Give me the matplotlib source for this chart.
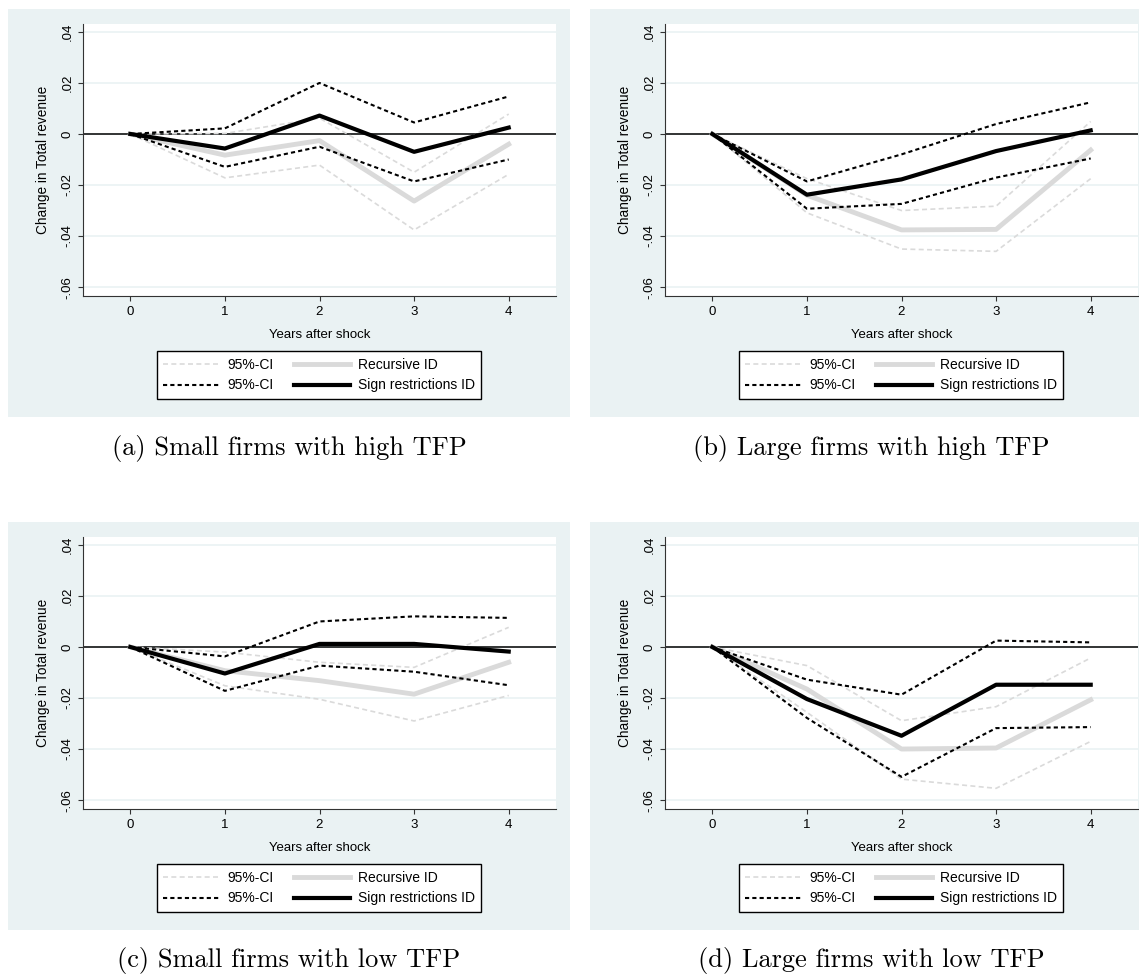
import numpy as np
import matplotlib.pyplot as plt
from matplotlib.patches import Rectangle
from matplotlib.lines import Line2D

plt.rcParams['font.family'] = ['Liberation Sans', 'DejaVu Sans']

years = [0, 1, 2, 3, 4]
yticks = [0.04, 0.02, 0, -0.02, -0.04, -0.06]
ytick_labels = ['.04', '.02', '0', '-.02', '-.04', '-.06']
captions = ['(a) Small firms with high TFP', '(b) Large firms with high TFP',
            '(c) Small firms with low TFP', '(d) Large firms with low TFP']

# sign restrictions ID (black) and its 95% band
sign_a = [0, -0.0057, 0.0072, -0.0070, 0.0025]
sign_a_hi = [0, 0.0022, 0.0200, 0.0045, 0.0147]
sign_a_lo = [0, -0.0129, -0.0050, -0.0186, -0.0100]
# recursive ID (grey) and its 95% band
rec_a = [0, -0.0083, -0.0026, -0.0263, -0.0040]
rec_a_hi = [0, 0.0002, 0.0062, -0.0150, 0.0078]
rec_a_lo = [0, -0.0172, -0.0122, -0.0376, -0.0158]

sign_b = [0, -0.0238, -0.0178, -0.0067, 0.0014]
sign_b_hi = [0, -0.0186, -0.0080, 0.0039, 0.0124]
sign_b_lo = [0, -0.0293, -0.0274, -0.0171, -0.0096]
rec_b = [0, -0.0240, -0.0376, -0.0374, -0.0063]
rec_b_hi = [0, -0.0175, -0.0300, -0.0283, 0.0049]
rec_b_lo = [0, -0.0309, -0.0451, -0.0460, -0.0175]

sign_c = [0, -0.0104, 0.0012, 0.0012, -0.0018]
sign_c_hi = [0, -0.0037, 0.0100, 0.0120, 0.0114]
sign_c_lo = [0, -0.0172, -0.0073, -0.0097, -0.0150]
rec_c = [0, -0.0093, -0.0132, -0.0185, -0.0060]
rec_c_hi = [0, -0.0020, -0.0060, -0.0080, 0.0077]
rec_c_lo = [0, -0.0152, -0.0205, -0.0290, -0.0190]

sign_d = [0, -0.0204, -0.0348, -0.0148, -0.0148]
sign_d_hi = [0, -0.0128, -0.0187, 0.0025, 0.0018]
sign_d_lo = [0, -0.0278, -0.0509, -0.0318, -0.0314]
rec_d = [0, -0.0165, -0.0400, -0.0396, -0.0207]
rec_d_hi = [0, -0.0073, -0.0289, -0.0234, -0.0043]
rec_d_lo = [0, -0.0256, -0.0518, -0.0554, -0.0370]

W, H = 1139, 976
BG = '#EAF2F3'
GREY = '#DADADA'

fig = plt.figure(figsize=(W / 100, H / 100), dpi=100)


def fx(x):
    return x / W


def fy(y):
    return 1 - y / H


def panel(x0, y0, sign, sign_hi, sign_lo, rec, rec_hi, rec_lo, caption):
    # x0, y0: top-left of the grey background in pixels
    bg = Rectangle((fx(x0), fy(y0 + 408)), 562 / W, 408 / H,
                   transform=fig.transFigure, facecolor=BG, edgecolor='none')
    bg.set_zorder(-10)
    fig.add_artist(bg)
    ax = fig.add_axes([fx(x0 + 75), fy(y0 + 287), 473 / W, 272 / H])
    ax.set_zorder(5)
    ax.set_facecolor('white')
    for yv in yticks:
        ax.axhline(yv, color=BG, lw=1.2, zorder=1)
    ax.axhline(0, color='black', lw=1.1, zorder=2)

    l1, = ax.plot(years, rec_hi, color=GREY, lw=1.2, ls=(0, (3, 2)), zorder=3)
    ax.plot(years, rec_lo, color=GREY, lw=1.2, ls=(0, (3, 2)), zorder=3)
    l3, = ax.plot(years, rec, color=GREY, lw=3.5, zorder=3)
    l2, = ax.plot(years, sign_hi, color='black', lw=1.5, ls=(0, (2, 1.5)), zorder=4)
    ax.plot(years, sign_lo, color='black', lw=1.5, ls=(0, (2, 1.5)), zorder=4)
    l4, = ax.plot(years, sign, color='black', lw=3, zorder=5)

    ax.set_xlim(-0.5, 4.5)
    ax.set_ylim(-0.0635, 0.0431)
    ax.set_xticks(years)
    ax.set_yticks(yticks)
    ax.set_yticklabels(ytick_labels, rotation=90, va='center')
    ax.tick_params(labelsize=9.5, color='#333333', length=3.5)
    for s in ['top', 'right']:
        ax.spines[s].set_visible(False)
    for s in ['left', 'bottom']:
        ax.spines[s].set_color('#333333')
    ax.set_xlabel('Years after shock', fontsize=9.5, labelpad=8)
    ax.set_ylabel('Change in Total revenue', fontsize=9.8, labelpad=8)

    leg = fig.legend([l1, l2, l3, l4], ['95%-CI', '95%-CI', 'Recursive ID', 'Sign restrictions ID'],
                     ncol=2, loc='center', bbox_to_anchor=(fx(x0 + 311), fy(y0 + 366)),
                     bbox_transform=fig.transFigure, fancybox=False, framealpha=1,
                     edgecolor='black', fontsize=10, handlelength=4.0, handletextpad=0.6,
                     columnspacing=1.5, labelspacing=0.5, borderpad=0.45)
    leg.set_zorder(6)
    fig.text(fx(x0 + 281), fy(y0 + 439), caption, family='cmr10', fontsize=19,
             ha='center', va='center')


panel(8, 9, sign_a, sign_a_hi, sign_a_lo, rec_a, rec_a_hi, rec_a_lo, captions[0])
panel(590, 9, sign_b, sign_b_hi, sign_b_lo, rec_b, rec_b_hi, rec_b_lo, captions[1])
panel(8, 522, sign_c, sign_c_hi, sign_c_lo, rec_c, rec_c_hi, rec_c_lo, captions[2])
panel(590, 522, sign_d, sign_d_hi, sign_d_lo, rec_d, rec_d_hi, rec_d_lo, captions[3])

plt.savefig('out.png', dpi=100)
